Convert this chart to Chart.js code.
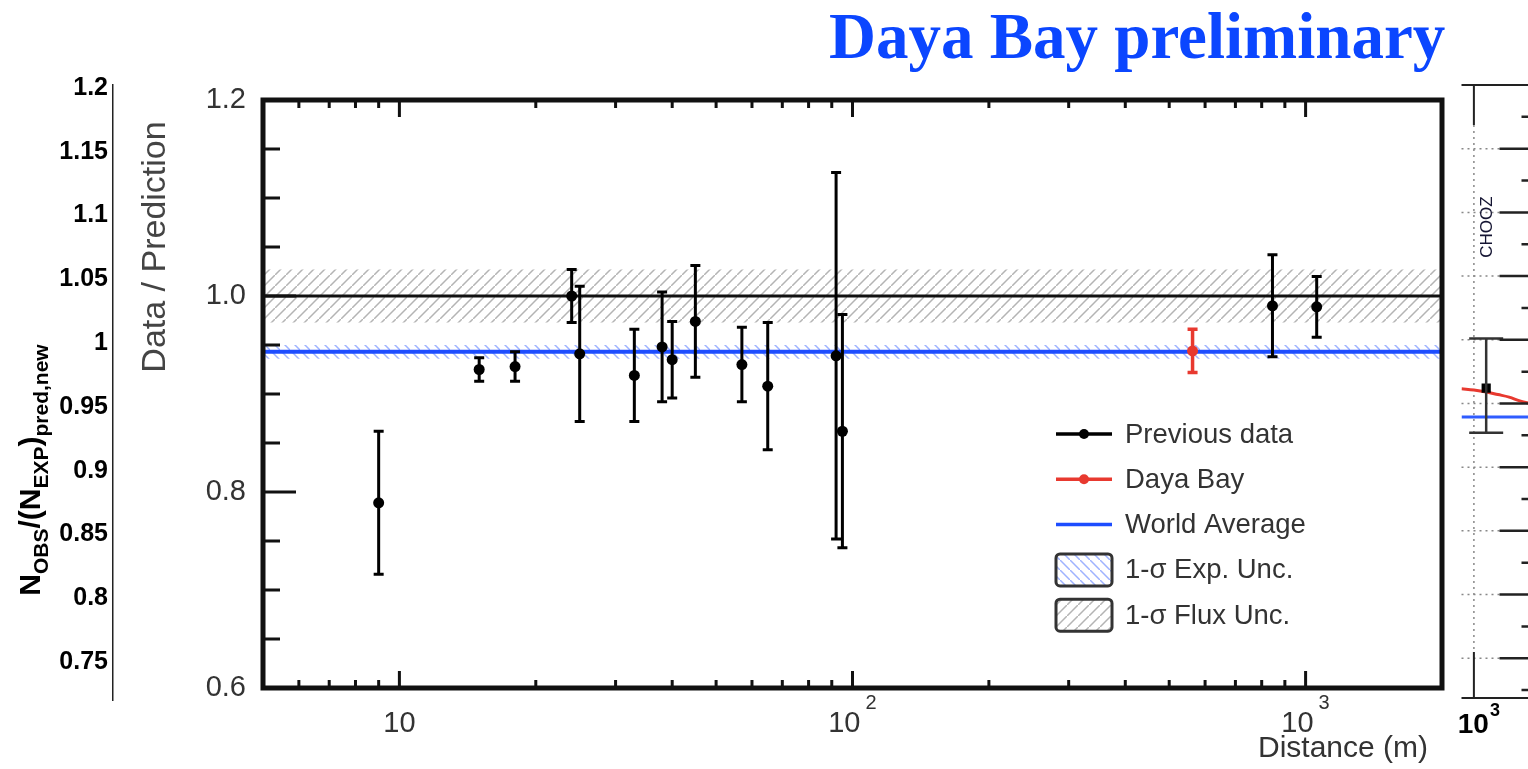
<!DOCTYPE html>
<html>
<head>
<meta charset="utf-8">
<script src="https://cdn.jsdelivr.net/npm/chart.js@4.4.1/dist/chart.umd.min.js"></script>
<style>
  html, body { margin: 0; padding: 0; background: #fff; overflow: hidden; }
  body { width: 1528px; height: 769px; position: relative; }
  canvas { position: absolute; top: 0; }
  #title { position: absolute; left: 829px; top: 4px; font: bold 65px "Liberation Serif", "Times New Roman", serif;
           color: #0b46ff; line-height: 64px; white-space: nowrap; }
</style>
</head>
<body>
<div id="title">Daya Bay preliminary</div>
<canvas id="main" width="1528" height="769" style="left:0"></canvas>
<canvas id="leftAxis" width="140" height="769" style="left:0"></canvas>
<canvas id="chooz" width="200" height="769" style="left:1455px"></canvas>
<script>
Chart.defaults.font.family = "'Liberation Sans', Arial, Helvetica, sans-serif";

// main panel : data / prediction vs distance
const prevDist  = [9, 15, 18, 24, 25, 33, 38, 40, 45, 57, 65, 92, 95, 845, 1058];
const prevRatio = [0.789, 0.925, 0.928, 1.000, 0.941, 0.919, 0.948, 0.935, 0.974, 0.930, 0.908, 0.939, 0.862, 0.990, 0.989];
const prevErr   = [0.073, 0.012, 0.015, 0.027, 0.069, 0.047, 0.056, 0.039, 0.057, 0.038, 0.065, 0.187, 0.119, 0.052, 0.031];
const dybDist  = [563];
const dybRatio = [0.944];
const dybErr   = [0.022];
const worldAvg = 0.943;
const expUnc   = 0.007;
const fluxUnc  = 0.027;
const xRange   = [5, 2000];
const yTickVals  = [0.6, 0.8, 1.0, 1.2];
const yMinorVals = [0.65, 0.7, 0.75, 0.85, 0.9, 0.95, 1.05, 1.1, 1.15];
const xTickVals  = [10, 100, 1000];
const xTickExps  = ['', '2', '3'];
const legendLabels = ['Previous data', 'Daya Bay', 'World Average', '1-\u03c3 Exp. Unc.', '1-\u03c3 Flux Unc.'];

// left fragment : other plot's axis
const leftTickVals   = [0.75, 0.8, 0.85, 0.9, 0.95, 1.0, 1.05, 1.1, 1.15, 1.2];
const leftTickLabels = ['0.75', '0.8', '0.85', '0.9', '0.95', '1', '1.05', '1.1', '1.15', '1.2'];
const leftTitleParts = [{t: 'N'}, {t: 'OBS', sub: true}, {t: '/(N'}, {t: 'EXP', sub: true}, {t: ')'}, {t: 'pred,new', sub: true}];

// right fragment : CHOOZ
const choozDist = [1050];
const choozRatio = [0.962];
const choozErrUp = [0.039];
const choozErrDown = [0.035];
const curveDist  = [952, 1000, 1050, 1100, 1150, 1200, 1250, 1400, 1600, 2000];
const curveRatio = [0.9615, 0.9605, 0.959, 0.957, 0.955, 0.952, 0.950, 0.944, 0.937, 0.925];
const choozWorld = 0.9394;
const choozMajor = [1.15, 1.1, 1.05, 1.0, 0.95, 0.9, 0.85, 0.8, 0.75];
const choozMinor = [1.175, 1.125, 1.075, 1.025, 0.975, 0.925, 0.875, 0.825, 0.775, 0.725];

function hatch(color, slash, gap, lw) {
  const c = document.createElement('canvas');
  c.width = gap; c.height = gap;
  const g = c.getContext('2d');
  g.strokeStyle = color; g.lineWidth = lw;
  g.beginPath();
  if (slash) {
    g.moveTo(-gap, gap * 2); g.lineTo(gap * 2, -gap);
    g.moveTo(-gap * 2, gap); g.lineTo(gap, -gap * 2);
    g.moveTo(0, gap * 3); g.lineTo(gap * 3, 0);
  } else {
    g.moveTo(-gap, -gap); g.lineTo(gap * 2, gap * 2);
    g.moveTo(-gap * 2, 0); g.lineTo(gap, gap * 3);
    g.moveTo(0, -gap * 2); g.lineTo(gap * 3, gap);
  }
  g.stroke();
  return g.createPattern(c, 'repeat');
}
const fluxPat = hatch('#b4b4b4', true, 11, 1.5);
const expPat = hatch('#9fb3ff', false, 10, 1.5);

const errorBars = {
  id: 'errorBars',
  afterDatasetsDraw(chart) {
    const ctx = chart.ctx, ys = chart.scales.y;
    chart.data.datasets.forEach((ds, di) => {
      if (!ds.errUp) return;
      const meta = chart.getDatasetMeta(di);
      ctx.save();
      ctx.strokeStyle = ds.errColor;
      ctx.lineWidth = ds.errWidth;
      meta.data.forEach((pt, i) => {
        const v = ds.data[i].y;
        const top = ys.getPixelForValue(v + ds.errUp[i]);
        const bot = ys.getPixelForValue(v - ds.errDown[i]);
        const c = ds.capHalf;
        ctx.beginPath();
        ctx.moveTo(pt.x, top); ctx.lineTo(pt.x, bot);
        ctx.moveTo(pt.x - c, top); ctx.lineTo(pt.x + c, top);
        ctx.moveTo(pt.x - c, bot); ctx.lineTo(pt.x + c, bot);
        ctx.stroke();
      });
      ctx.restore();
    });
  }
};

const mainDecor = {
  id: 'mainDecor',
  afterDraw(chart) {
    const {ctx, chartArea: a, scales: {x, y}} = chart;
    ctx.save();
    ctx.strokeStyle = '#111';
    ctx.lineWidth = 3;
    ctx.beginPath();
    yMinorVals.forEach(v => { const py = y.getPixelForValue(v); ctx.moveTo(a.left, py); ctx.lineTo(a.left + 17, py); });
    yTickVals.forEach(v => { const py = y.getPixelForValue(v); ctx.moveTo(a.left, py); ctx.lineTo(a.left + 33, py); });
    for (let d = 1; d <= 1000; d *= 10) {
      for (let m = 1; m < 10; m++) {
        const v = m * d;
        if (v <= xRange[0] || v >= xRange[1]) continue;
        const px = x.getPixelForValue(v), len = m === 1 ? 17 : 8;
        ctx.moveTo(px, a.top); ctx.lineTo(px, a.top + len);
        ctx.moveTo(px, a.bottom); ctx.lineTo(px, a.bottom - len);
      }
    }
    ctx.stroke();
    ctx.lineWidth = 5;
    ctx.strokeRect(a.left, a.top, a.right - a.left, a.bottom - a.top);

    // x tick labels
    ctx.fillStyle = '#333';
    ctx.textBaseline = 'middle';
    xTickVals.forEach((v, i) => {
      const px = x.getPixelForValue(v);
      ctx.font = '29px "Liberation Sans", Arial, sans-serif';
      if (!xTickExps[i]) {
        ctx.textAlign = 'center';
        ctx.fillText('10', px, 724);
      } else {
        ctx.textAlign = 'right';
        ctx.fillText('10', px + 8, 724);
        ctx.font = '20px "Liberation Sans", Arial, sans-serif';
        ctx.textAlign = 'left';
        ctx.fillText(xTickExps[i], px + 13, 703);
      }
    });
    ctx.font = '30px "Liberation Sans", Arial, sans-serif';
    ctx.textAlign = 'right';
    ctx.fillText('Distance (m)', 1428, 749);

    ctx.save();
    ctx.translate(156, 247);
    ctx.rotate(-Math.PI / 2);
    ctx.textAlign = 'center';
    ctx.fillStyle = '#444';
    ctx.font = '34px "Liberation Sans", Arial, sans-serif';
    ctx.fillText('Data / Prediction', 0, 0);
    ctx.restore();

    // legend
    const styles = [
      {color: '#000', dot: true}, {color: '#e8392f', dot: true}, {color: '#1d4dff'},
      {box: expPat}, {box: fluxPat}
    ];
    const lx0 = 1056, lx1 = 1112, tx = 1125, ly0 = 434, dy = 45.3;
    legendLabels.forEach((lab, i) => {
      const ly = ly0 + i * dy, s = styles[i];
      if (s.box) {
        ctx.beginPath();
        ctx.roundRect(lx0, ly - 16, lx1 - lx0, 32, 4);
        ctx.fillStyle = s.box; ctx.fill();
        ctx.strokeStyle = '#333'; ctx.lineWidth = 3; ctx.stroke();
      } else {
        ctx.strokeStyle = s.color; ctx.lineWidth = 3.5;
        ctx.beginPath(); ctx.moveTo(lx0, ly); ctx.lineTo(lx1, ly); ctx.stroke();
        if (s.dot) {
          ctx.fillStyle = s.color;
          ctx.beginPath(); ctx.arc((lx0 + lx1) / 2, ly, 5, 0, Math.PI * 2); ctx.fill();
        }
      }
      ctx.fillStyle = '#333';
      ctx.textAlign = 'left';
      ctx.font = '27.5px "Liberation Sans", Arial, sans-serif';
      ctx.fillText(lab, tx, ly + 1);
    });
    ctx.restore();
  }
};

const flat = v => xRange.map(x => ({x, y: v}));

new Chart(document.getElementById('main'), {
  type: 'line',
  data: {
    datasets: [
      { label: 'fluxLo', data: flat(1 - fluxUnc), borderColor: 'transparent', borderWidth: 0, pointRadius: 0, fill: false, order: 9 },
      { label: 'fluxHi', data: flat(1 + fluxUnc), borderColor: 'transparent', borderWidth: 0, pointRadius: 0, fill: '-1', backgroundColor: fluxPat, order: 9 },
      { label: 'expLo', data: flat(worldAvg - expUnc), borderColor: 'transparent', borderWidth: 0, pointRadius: 0, fill: false, order: 8 },
      { label: 'expHi', data: flat(worldAvg + expUnc), borderColor: 'transparent', borderWidth: 0, pointRadius: 0, fill: '-1', backgroundColor: expPat, order: 8 },
      { label: 'Unity', data: flat(1), borderColor: '#111', borderWidth: 3, pointRadius: 0, order: 5 },
      { label: 'World Average', data: flat(worldAvg), borderColor: '#1d4dff', borderWidth: 4, pointRadius: 0, order: 4 },
      { label: 'Previous data', data: prevDist.map((x, i) => ({x, y: prevRatio[i]})), showLine: false,
        pointRadius: 5.5, pointBackgroundColor: '#000', pointBorderWidth: 0,
        errUp: prevErr, errDown: prevErr, errColor: '#000', errWidth: 3, capHalf: 5, order: 1 },
      { label: 'Daya Bay', data: dybDist.map((x, i) => ({x, y: dybRatio[i]})), showLine: false,
        pointRadius: 5.5, pointBackgroundColor: '#e8392f', pointBorderWidth: 0,
        errUp: dybErr, errDown: dybErr, errColor: '#e8392f', errWidth: 3.5, capHalf: 5, order: 0 }
    ]
  },
  options: {
    responsive: false, animation: false, events: [],
    layout: { padding: { left: 183, top: 100, right: 86, bottom: 0 } },
    scales: {
      x: { type: 'logarithmic', min: xRange[0], max: xRange[1],
           ticks: { display: false }, grid: { display: false, drawTicks: false }, border: { display: false },
           afterFit: s => { s.height = 81; } },
      y: { type: 'linear', min: 0.6, max: 1.2,
           afterBuildTicks: s => { s.ticks = yTickVals.map(v => ({value: v})); },
           afterFit: s => { s.width = 80; },
           ticks: { callback: v => v.toFixed(1), font: { size: 29 }, color: '#333', padding: 17, autoSkip: false },
           grid: { display: false, drawTicks: false }, border: { display: false } }
    },
    plugins: { legend: { display: false }, tooltip: { enabled: false } }
  },
  plugins: [errorBars, mainDecor]
});

const leftTitle = {
  id: 'leftTitle',
  afterDraw(chart) {
    const ctx = chart.ctx;
    ctx.save();
    ctx.translate(40, 470);
    ctx.rotate(-Math.PI / 2);
    ctx.fillStyle = '#000';
    ctx.textAlign = 'left';
    ctx.textBaseline = 'alphabetic';
    const fontOf = p => p.sub ? 'bold 21px "Liberation Sans", Arial, sans-serif' : 'bold 30px "Liberation Sans", Arial, sans-serif';
    let total = 0;
    leftTitleParts.forEach(p => { ctx.font = fontOf(p); total += ctx.measureText(p.t).width; });
    let xo = -total / 2;
    leftTitleParts.forEach(p => {
      ctx.font = fontOf(p);
      ctx.fillText(p.t, xo, p.sub ? 8 : 0);
      xo += ctx.measureText(p.t).width;
    });
    ctx.restore();
  }
};

new Chart(document.getElementById('leftAxis'), {
  type: 'line',
  data: { datasets: [] },
  options: {
    responsive: false, animation: false, events: [],
    layout: { padding: { left: 0, top: 85, right: 0, bottom: 69 } },
    scales: {
      x: { type: 'linear', display: false },
      y: { type: 'linear', min: 0.7202, max: 1.2024,
           afterBuildTicks: s => { s.ticks = leftTickVals.map(v => ({value: v})); },
           afterFit: s => { s.width = 113; },
           ticks: { callback: (v, i) => leftTickLabels[i], font: { size: 25, weight: 'bold' }, color: '#000', padding: 5, autoSkip: false },
           grid: { display: false, drawTicks: false },
           border: { display: true, color: '#222', width: 1.5 } }
    },
    plugins: { legend: { display: false }, tooltip: { enabled: false } }
  },
  plugins: [leftTitle]
});

const choozDecor = {
  id: 'choozDecor',
  beforeDatasetsDraw(chart) {
    const {ctx, chartArea: a, scales: {x, y}} = chart;
    ctx.save();
    ctx.strokeStyle = '#888';
    ctx.lineWidth = 1.5;
    ctx.setLineDash([2, 4]);
    ctx.beginPath();
    choozMajor.forEach(v => { const py = y.getPixelForValue(v); ctx.moveTo(a.left, py); ctx.lineTo(a.left + 38, py); });
    const gx = x.getPixelForValue(1000);
    ctx.moveTo(gx, a.top + 40); ctx.lineTo(gx, a.bottom - 46);
    ctx.stroke();
    ctx.restore();
  },
  afterDraw(chart) {
    const {ctx, chartArea: a, scales: {x, y}} = chart;
    const gx = x.getPixelForValue(1000);
    ctx.save();
    ctx.strokeStyle = '#222';
    ctx.lineWidth = 2;
    ctx.beginPath();
    ctx.moveTo(a.left, a.top); ctx.lineTo(a.right, a.top);
    ctx.moveTo(a.left, a.bottom); ctx.lineTo(a.right, a.bottom);
    ctx.moveTo(gx, a.top); ctx.lineTo(gx, a.top + 40);
    ctx.moveTo(gx, a.bottom); ctx.lineTo(gx, a.bottom - 46);
    ctx.stroke();
    ctx.lineWidth = 2.5;
    ctx.beginPath();
    choozMajor.forEach(v => { const py = y.getPixelForValue(v); ctx.moveTo(a.left + 38, py); ctx.lineTo(a.right, py); });
    choozMinor.forEach(v => { const py = y.getPixelForValue(v); ctx.moveTo(a.left + 60, py); ctx.lineTo(a.right, py); });
    ctx.stroke();

    ctx.fillStyle = '#141432';
    ctx.save();
    ctx.translate(gx + 13, 227);
    ctx.rotate(-Math.PI / 2);
    ctx.textAlign = 'center';
    ctx.textBaseline = 'middle';
    ctx.font = '17px "Liberation Sans", Arial, sans-serif';
    ctx.fillText('CHOOZ', 0, 0);
    ctx.restore();

    ctx.fillStyle = '#000';
    ctx.textBaseline = 'middle';
    ctx.textAlign = 'right';
    ctx.font = 'bold 28px "Liberation Sans", Arial, sans-serif';
    ctx.fillText('10', gx + 15, 725);
    ctx.textAlign = 'left';
    ctx.font = 'bold 18px "Liberation Sans", Arial, sans-serif';
    ctx.fillText('3', gx + 16, 711);
    ctx.restore();
  }
};

new Chart(document.getElementById('chooz'), {
  type: 'line',
  data: {
    datasets: [
      { label: 'CHOOZ', data: choozDist.map((x, i) => ({x, y: choozRatio[i]})), showLine: false,
        pointStyle: 'rect', pointRadius: 6.5, pointBackgroundColor: '#000', pointBorderWidth: 0,
        errUp: choozErrUp, errDown: choozErrDown, errColor: '#333', errWidth: 2.5, capHalf: 17, order: 0 },
      { label: 'fit', data: curveDist.map((x, i) => ({x, y: curveRatio[i]})), borderColor: '#e8392f', borderWidth: 3,
        pointRadius: 0, tension: 0.4, order: 2 },
      { label: 'average', data: [952, 2000].map(x => ({x, y: choozWorld})), borderColor: '#2f5cff', borderWidth: 3,
        pointRadius: 0, order: 1 }
    ]
  },
  options: {
    responsive: false, animation: false, events: [],
    layout: { padding: { left: 2, top: 85, right: 0, bottom: 71 } },
    scales: {
      x: { type: 'logarithmic', min: 952, max: 2000, display: false },
      y: { type: 'linear', min: 0.7188, max: 1.2, display: false }
    },
    plugins: { legend: { display: false }, tooltip: { enabled: false } }
  },
  plugins: [errorBars, choozDecor]
});
</script>
</body>
</html>
